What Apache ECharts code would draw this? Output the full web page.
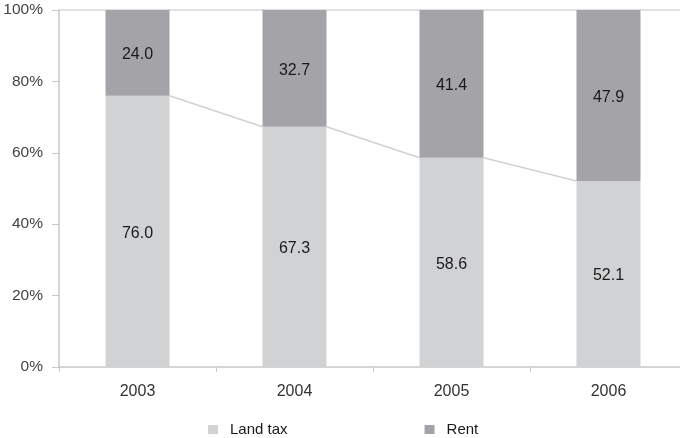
<!DOCTYPE html>
<html>
<head>
<meta charset="utf-8">
<script src="https://cdn.jsdelivr.net/npm/echarts@6/dist/echarts.min.js"></script>
<style>
  html, body { margin: 0; padding: 0; background: #fff; }
  #chart { width: 680px; height: 438px; }
</style>
</head>
<body>
<div id="chart"></div>
<script>
// Share of land tax vs. rent, per year (percent of total)
const years = ['2003', '2004', '2005', '2006'];
const landTax = [76.0, 67.3, 58.6, 52.1];
const rent = [24.0, 32.7, 41.4, 47.9];
const yTicks = [0, 20, 40, 60, 80, 100];

const BAR_W = 64;
const FONT = 'Liberation Sans, Arial, Helvetica, sans-serif';

const chart = echarts.init(document.getElementById('chart'), null, { renderer: 'canvas' });

// Connector segments: from the right edge of one land-tax bar top to the left edge of the next
const connectorData = landTax.slice(0, -1).map((v, i) => [i, v, landTax[i + 1]]);

const barLabel = {
  show: true, position: 'inside', offset: [0, 2],
  fontFamily: FONT, fontSize: 16, color: '#1a1a1a',
  formatter: p => p.value.toFixed(1)
};

chart.setOption({
  animation: false,
  backgroundColor: '#ffffff',
  grid: { left: 59, top: 10, width: 628, height: 357, outerBoundsMode: 'none', containLabel: false },
  legend: {
    top: 422,
    left: 208,
    padding: 0,
    itemWidth: 10,
    itemHeight: 9,
    itemGap: 137,
    icon: 'rect',
    textStyle: { fontFamily: FONT, fontSize: 15, color: '#1a1a1a', padding: [0, 0, 0, 7] },
    data: ['Land tax', 'Rent']
  },
  xAxis: [
    {
      type: 'category',
      data: years,
      position: 'bottom',
      axisLine: { lineStyle: { color: '#c8c8c8', width: 1.5 } },
      axisTick: { show: true, length: 5, lineStyle: { color: '#c8c8c8' } },
      axisLabel: { fontFamily: FONT, fontSize: 16, color: '#333', margin: 17 }
    },
    {
      type: 'category',
      data: years,
      position: 'top',
      axisLine: { lineStyle: { color: '#d8d8d8', width: 1.5 } },
      axisTick: { show: false },
      axisLabel: { show: false }
    }
  ],
  yAxis: {
    type: 'value',
    min: yTicks[0],
    max: yTicks[yTicks.length - 1],
    interval: 20,
    axisLine: { show: true, lineStyle: { color: '#c8c8c8', width: 1.5 } },
    axisTick: { show: true, length: 7, lineStyle: { color: '#c8c8c8' } },
    splitLine: { show: false },
    axisLabel: {
      fontFamily: FONT, fontSize: 15.5, color: '#444', margin: 16,
      padding: [5, 0, 0, 0],
      formatter: v => v + '%'
    }
  },
  series: [
    {
      name: 'Land tax',
      type: 'bar',
      stack: 'total',
      barWidth: BAR_W,
      data: landTax,
      itemStyle: { color: '#d1d2d4' },
      label: barLabel
    },
    {
      name: 'Rent',
      type: 'bar',
      stack: 'total',
      barWidth: BAR_W,
      data: rent,
      itemStyle: { color: '#a4a3a7' },
      label: barLabel
    },
    {
      name: 'connector',
      type: 'custom',
      data: connectorData,
      silent: true,
      z: 1,
      renderItem: (params, api) => {
        const i = api.value(0);
        const a = api.coord([i, api.value(1)]);
        const b = api.coord([i + 1, api.value(2)]);
        return {
          type: 'line',
          shape: { x1: a[0] + BAR_W / 2, y1: a[1], x2: b[0] - BAR_W / 2, y2: b[1] },
          style: { stroke: '#d2d2d2', lineWidth: 1.5 }
        };
      }
    }
  ]
});
</script>
</body>
</html>
